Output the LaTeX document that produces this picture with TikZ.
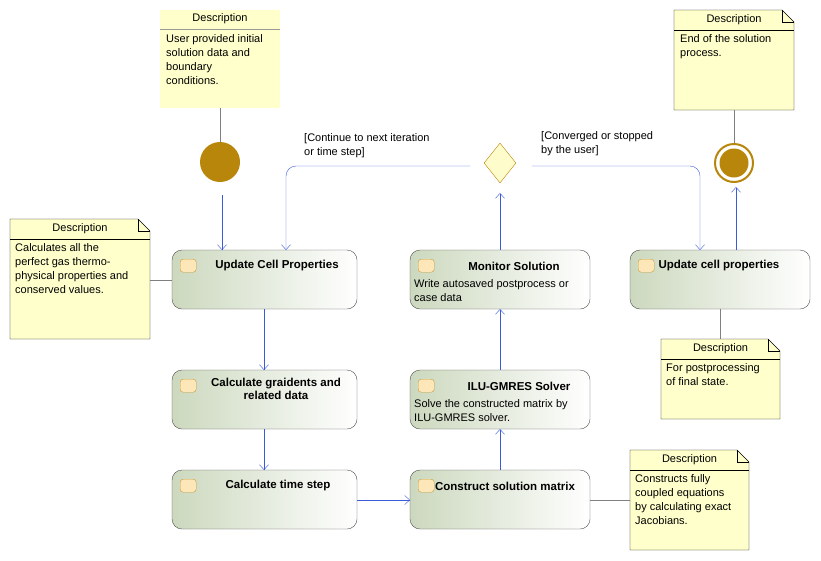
\documentclass[tikz,border=0pt]{standalone}
\usepackage{fontspec}
\setmainfont{Liberation Sans}
\usetikzlibrary{arrows.meta,shapes.geometric}
\definecolor{notefill}{HTML}{FFFFCC}
\definecolor{flowblue}{HTML}{3B5BDB}
\definecolor{stategold}{HTML}{B8860B}
\definecolor{actgreen}{HTML}{CCD8BE}
\newcommand{\actbox}[3]{% name, top-left, bottom-right
  \draw[act] #2 rectangle #3;
  \path #2 coordinate (#1-nw) #3 coordinate (#1-se);
  \node[icon, anchor=north west] (#1-icon) at ([xshift=8pt,yshift=-9pt]#1-nw) {};
}
\begin{document}
\begin{tikzpicture}[
  x = 1pt, y = -1pt,
  font = \fontsize{11}{14}\selectfont,
  act/.style = {
    draw = black!70,
    rounded corners = 10pt,
    shading = axis,
    left color = actgreen,
    right color = white,
    shading angle = 90
  },
  icon/.style = {
    draw = stategold!80,
    fill = yellow!30!orange!25,
    rounded corners = 3pt,
    minimum width = 16pt,
    minimum height = 13pt,
    inner sep = 0pt
  },
  title/.style = {
    font = \fontsize{11.5}{13}\selectfont\bfseries,
    align = center
  },
  desc/.style = {
    align = left,
    anchor = north west,
    inner sep = 0pt
  },
  note/.style = {
    draw = black,
    fill = notefill
  },
  link/.style = {
    draw = black!50
  },
  flow/.style = {
    draw = flowblue,
    -{Straight Barb[length=5pt,width=9pt]},
    rounded corners = 10pt
  }
]
  \useasboundingbox (0,0) rectangle (821,560);

  % notes
  \fill[notefill] (160,10) rectangle (280,108);
  \draw[black!40] (160,29) -- (280,29);
  \node (note1) at (220,19) {Description};
  \node[desc] (note1-text) at (166,34) {User provided initial\\solution data and\\boundary\\conditions.};

  \foreach \nm/\l/\t/\r/\b in {note2/674/10/794/110, note3/10/219/150/339,
      note4/661/339/780/419, note5/630/450/749/550} {
    \draw[note] (\l,\t) -- (\r-12,\t) -- (\r,\t+12) -- (\r,\b) -- (\l,\b) -- cycle;
    \draw (\r-12,\t) -- (\r-12,\t+12) -- (\r,\t+12);
    \draw (\l,\t+20) -- (\r,\t+20);
    \node (\nm) at ({(\l+\r)/2},\t+10) {Description};
  }
  \node[desc] (note2-text) at (680,34) {End of the solution\\process.};
  \node[desc] (note3-text) at (15,243) {Calculates all the\\perfect gas thermo-\\physical properties and\\conserved values.};
  \node[desc] (note4-text) at (666,363) {For postprocessing\\of final state.};
  \node[desc] (note5-text) at (635,474) {Constructs fully\\coupled equations\\by calculating exact\\Jacobians.};

  % activities
  \actbox{update}{(172,250)}{(357,309)}
  \actbox{monitor}{(410,250)}{(590,309)}
  \actbox{final}{(630,250)}{(810,309)}
  \actbox{grad}{(172,370)}{(357,429)}
  \actbox{solver}{(410,370)}{(590,429)}
  \actbox{dt}{(172,470)}{(357,529)}
  \actbox{matrix}{(410,470)}{(590,529)}

  \node[title] (update-title) at (277,266) {Update Cell Properties};
  \node[title] (monitor-title) at (514,266) {Monitor Solution};
  \node[desc] (monitor-text) at (414,279) {Write autosaved postprocess or\\case data};
  \node[title] (final-title) at (719,266) {Update cell properties};
  \node[title] (grad-title) at (276,389) {Calculate graidents and\\related data};
  \node[title] (solver-title) at (519,386) {ILU-GMRES Solver};
  \node[desc] (solver-text) at (414,399) {Solve the constructed matrix by\\ILU-GMRES solver.};
  \node[title] (dt-title) at (278,486) {Calculate time step};
  \node[title] (matrix-title) at (505,486) {Construct solution matrix};

  % states
  \node[circle, fill = stategold, minimum size = 40pt, inner sep = 0pt] (start) at (220,162) {};
  \node[circle, draw = stategold, line width = 2pt, fill = white, minimum size = 38pt, inner sep = 0pt] (end) at (734,163) {};
  \node[circle, fill = stategold, minimum size = 29pt, inner sep = 0pt] (end-dot) at (734,163) {};
  \node[diamond, draw = stategold, fill = yellow!20, minimum width = 32pt, minimum height = 40pt, inner sep = 0pt] (decide) at (500,163) {};
  \coordinate (decide-l) at (470,166);
  \coordinate (decide-r) at (532,166);

  % labels
  \node[desc] (continue) at (304,133) {[Continue to next iteration\\or time step]};
  \node[desc] (converged) at (541,131) {[Converged or stopped\\by the user]};

  % note links
  \draw[link] (220,108) -- (start);
  \draw[link] (734,110) -- (end);
  \draw[link] (150,280) -- (172,280);
  \draw[link] (720,339) -- (720,309);
  \draw[link] (630,500) -- (590,500);

  % flow
  \draw[flow] (222,195) -- (222,250);
  \draw[flow] (decide-l) -- (286,166) -- (286,250);
  \draw[flow] (decide-r) -- (700,166) -- (700,250);
  \draw[flow] (500,250) -- (500,193);
  \draw[flow] (736,250) -- (736,187);
  \draw[flow] (264,309) -- (264,370);
  \draw[flow] (264,429) -- (264,470);
  \draw[flow] (357,500) -- (410,500);
  \draw[flow] (500,470) -- (500,429);
  \draw[flow] (500,370) -- (500,309);
\end{tikzpicture}
\end{document}
